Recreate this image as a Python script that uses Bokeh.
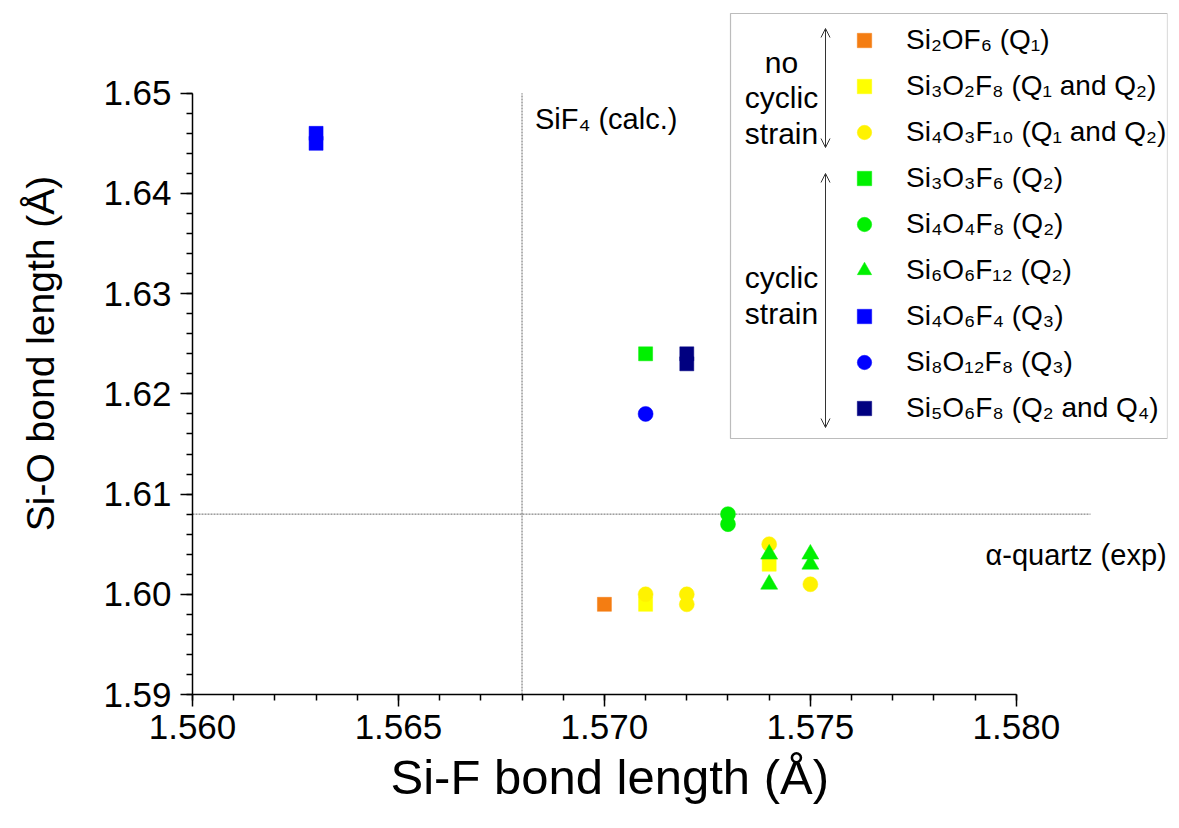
from bokeh.plotting import figure
from bokeh.models import (Legend, LegendItem, Label, Arrow, OpenHead, BoxAnnotation,
                          Range1d, SingleIntervalTicker, PrintfTickFormatter, Title)
from bokeh.embed import file_html
from bokeh.resources import INLINE

FONT = "Liberation Sans"

# ---------------- data (Si-F, Si-O bond lengths in Å) ----------------
labels = ["Si₂OF₆ (Q₁)", "Si₃O₂F₈ (Q₁ and Q₂)", "Si₄O₃F₁₀ (Q₁ and Q₂)",
          "Si₃O₃F₆ (Q₂)", "Si₄O₄F₈ (Q₂)", "Si₆O₆F₁₂ (Q₂)",
          "Si₄O₆F₄ (Q₃)", "Si₈O₁₂F₈ (Q₃)", "Si₅O₆F₈ (Q₂ and Q₄)"]
markers = ["square", "square", "circle", "square", "circle", "triangle",
           "square", "circle", "square"]
colors = ["#F47D12", "#FFFF00", "#FFF200", "#00F000", "#00F000", "#00F000",
          "#0000FF", "#0000FF", "#000080"]

sif_Si2OF6 = [1.570]
sio_Si2OF6 = [1.599]
sif_Si3O2F8 = [1.571, 1.574]
sio_Si3O2F8 = [1.599, 1.603]
sif_Si4O3F10 = [1.571, 1.572, 1.572, 1.574, 1.575]
sio_Si4O3F10 = [1.600, 1.600, 1.599, 1.605, 1.601]
sif_Si3O3F6 = [1.571]
sio_Si3O3F6 = [1.624]
sif_Si4O4F8 = [1.573, 1.573]
sio_Si4O4F8 = [1.608, 1.607]
sif_Si6O6F12 = [1.574, 1.574, 1.575, 1.575]
sio_Si6O6F12 = [1.604, 1.601, 1.604, 1.603]
sif_Si4O6F4 = [1.563, 1.563]
sio_Si4O6F4 = [1.646, 1.645]
sif_Si8O12F8 = [1.571]
sio_Si8O12F8 = [1.618]
sif_Si5O6F8 = [1.572, 1.572]
sio_Si5O6F8 = [1.624, 1.623]

series_x = [sif_Si2OF6, sif_Si3O2F8, sif_Si4O3F10, sif_Si3O3F6, sif_Si4O4F8,
            sif_Si6O6F12, sif_Si4O6F4, sif_Si8O12F8, sif_Si5O6F8]
series_y = [sio_Si2OF6, sio_Si3O2F8, sio_Si4O3F10, sio_Si3O3F6, sio_Si4O4F8,
            sio_Si6O6F12, sio_Si4O6F4, sio_Si8O12F8, sio_Si5O6F8]

SIF4_CALC = 1.568      # Si-F in SiF4 (calc.)
QUARTZ_EXP = 1.608     # Si-O in alpha-quartz (exp)
X_AXIS = (1.560, 1.580)
Y_AXIS = (1.59, 1.65)
X_TITLE = "Si-F bond length (Å)"
Y_TITLE = "Si-O bond length (Å)"

# ---------------- figure ----------------
p = figure(width=1175, height=826, output_backend="svg", toolbar_location=None,
           x_range=Range1d(1.560, 1.58367), y_range=Range1d(1.59, 1.65806),
           min_border_left=192, min_border_right=8, min_border_top=12,
           min_border_bottom=132)
p.outline_line_color = None
p.xgrid.visible = False
p.ygrid.visible = False
p.background_fill_color = "white"
p.border_fill_color = "white"

p.xaxis.ticker = SingleIntervalTicker(interval=0.005, num_minor_ticks=5)
p.yaxis.ticker = SingleIntervalTicker(interval=0.01, num_minor_ticks=5)
p.xaxis.formatter = PrintfTickFormatter(format="%.3f")
p.yaxis.formatter = PrintfTickFormatter(format="%.2f")
p.xaxis.bounds = (X_AXIS[0], X_AXIS[1] + 1e-9)
p.yaxis.bounds = (Y_AXIS[0], Y_AXIS[1] + 1e-9)
for ax in (p.xaxis, p.yaxis):
    ax.axis_line_color = "black"
    ax.axis_line_width = 1.5
    ax.major_tick_line_color = "black"
    ax.major_tick_line_width = 1.5
    ax.minor_tick_line_color = "black"
    ax.minor_tick_line_width = 1.5
    ax.major_tick_out = 12
    ax.major_tick_in = 0
    ax.minor_tick_out = 6
    ax.minor_tick_in = 0
    ax.major_label_text_font = FONT
    ax.major_label_text_font_size = "35px"
    ax.major_label_text_color = "black"
    ax.axis_label_text_font = FONT
    ax.axis_label_text_font_style = "normal"
    ax.axis_label_text_color = "black"
p.yaxis.axis_label = Y_TITLE
p.yaxis.axis_label_text_font_size = "39px"
p.xaxis.major_label_standoff = 8
p.yaxis.major_label_standoff = 9
p.yaxis.axis_label_standoff = 38

# x-axis title, placed under the axis line (which is shorter than the frame)
p.add_layout(Title(text=X_TITLE, align="left", offset=198, standoff=12,
                   text_font=FONT, text_font_size="49px", text_font_style="normal",
                   text_color="black"), "below")

# reference lines
p.segment(x0=[SIF4_CALC], y0=[Y_AXIS[0]], x1=[SIF4_CALC], y1=[Y_AXIS[1]],
          line_color="#666666", line_width=1, line_dash="2 1")
p.segment(x0=[X_AXIS[0]], y0=[QUARTZ_EXP], x1=[1.5818], y1=[QUARTZ_EXP],
          line_color="#666666", line_width=1, line_dash="2 1")

p.add_layout(Label(x=SIF4_CALC, y=Y_AXIS[1], x_offset=13, y_offset=-26,
                   text="SiF₄ (calc.)", text_font=FONT, text_font_size="29px",
                   text_baseline="alphabetic", text_color="black"))
p.add_layout(Label(x=1.58365, y=QUARTZ_EXP, y_offset=-41, text="α-quartz (exp)",
                   text_font=FONT, text_font_size="29px", text_align="right",
                   text_baseline="alphabetic", text_color="black"))

# data
sizes = {"square": 14, "circle": 15, "triangle": 17}
items = []
for lab, mk, col, xs, ys in zip(labels, markers, colors, series_x, series_y):
    r = p.scatter(x=xs, y=ys, marker=mk, size=sizes[mk], fill_color=col,
                  line_color=col, line_width=0.5)
    items.append(LegendItem(label=lab, renderers=[r]))

# legend frame (screen units, relative to the plot frame)
p.add_layout(BoxAnnotation(left=538, right=975, top=681, bottom=256,
                           left_units="screen", right_units="screen",
                           top_units="screen", bottom_units="screen",
                           fill_color="white", fill_alpha=1.0,
                           line_color="#222222", line_width=1.2, level="annotation"))

legend = Legend(items=items, location=(654, 268), padding=0, margin=0,
                glyph_width=36, glyph_height=36, label_height=36, spacing=10,
                label_standoff=24, label_text_font=FONT, label_text_font_size="28px",
                label_text_color="black", border_line_alpha=0,
                background_fill_alpha=0)
p.add_layout(legend)

for txt, yy in [("no", 632), ("cyclic", 597), ("strain", 561),
                ("cyclic", 417), ("strain", 381)]:
    p.add_layout(Label(x=589, y=yy, x_units="screen", y_units="screen", text=txt,
                       text_font=FONT, text_font_size="30px", text_align="center",
                       text_baseline="middle", text_color="black"))

for (y0, y1) in [(666, 547), (521, 267)]:
    p.add_layout(Arrow(x_start=633, y_start=y0, x_end=633, y_end=y1,
                       start_units="screen", end_units="screen",
                       start=OpenHead(size=9, line_width=1, line_color="#333333"),
                       end=OpenHead(size=9, line_width=1, line_color="#333333"),
                       line_width=1, line_color="#333333"))

open("out.html", "w").write(file_html(p, INLINE))
